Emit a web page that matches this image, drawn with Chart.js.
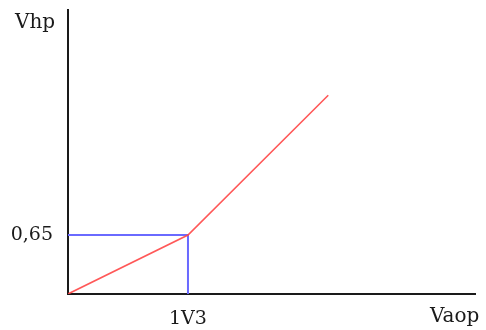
<!DOCTYPE html>
<html>
<head>
  <meta charset="UTF-8" />
  <title>Vhp vs Vaop</title>
  <style>
    html, body { margin: 0; padding: 0; background: #ffffff; }
    #wrap { width: 486px; height: 330px; position: relative; }
  </style>
</head>
<body>
  <div id="wrap">
    <canvas id="vhpChart"></canvas>
  </div>

  <script src="https://cdn.jsdelivr.net/npm/chart.js"></script>
  <script>
    // curve Vhp(Vaop)
    const vaop = [0, 1.3, 2.82];
    const vhp = [0, 0.65, 2.19];

    // blue guide lines to the knee
    const guideX = [0, 1.3, 1.3];
    const guideY = [0.65, 0.65, 0];

    const xTickValues = [1.3];
    const xTickLabels = ["1V3"];
    const yTickValues = [0.65];
    const yTickLabels = ["0,65"];

    const xTitle = "Vaop";
    const yTitle = "Vhp";

    const toPoints = (xs, ys) => xs.map((x, i) => ({ x: x, y: ys[i] }));

    const FONT = '"DejaVu Serif", "Liberation Serif", serif';

    const axisTitles = {
      id: "axisTitles",
      afterDraw(chart) {
        const ctx = chart.ctx;
        ctx.save();
        ctx.font = "20px " + FONT;
        ctx.fillStyle = "#1a1a1a";
        ctx.textAlign = "left";
        ctx.textBaseline = "alphabetic";
        ctx.fillText(yTitle, 15, 28);
        ctx.fillText(xTitle, 430, 322);
        ctx.restore();
      }
    };

    new Chart(document.getElementById("vhpChart"), {
      type: "scatter",
      data: {
        datasets: [
          {
            label: "Vhp",
            data: toPoints(vaop, vhp),
            showLine: true,
            borderColor: "rgba(255, 70, 70, 0.9)",
            borderWidth: 1.6,
            pointRadius: 0,
            order: 0
          },
          {
            label: "guide",
            data: toPoints(guideX, guideY),
            showLine: true,
            borderColor: "#6a6aff",
            borderWidth: 2,
            pointRadius: 0,
            order: 1
          }
        ]
      },
      options: {
        responsive: true,
        maintainAspectRatio: false,
        animation: false,
        layout: { padding: { top: 10, right: 11, bottom: 0, left: 0 } },
        plugins: {
          legend: { display: false },
          tooltip: { enabled: false }
        },
        scales: {
          x: {
            type: "linear",
            min: 0,
            max: 4.41,
            afterFit: s => { s.height = 36; s.paddingLeft = 0; s.paddingRight = 0; },
            afterBuildTicks: s => { s.ticks = xTickValues.map(v => ({ value: v })); },
            grid: { display: false, drawTicks: false },
            border: { display: true, color: "#1a1a1a", width: 2 },
            ticks: {
              color: "#1a1a1a",
              padding: 14,
              maxRotation: 0,
              font: { family: FONT, size: 19 },
              callback: v => xTickLabels[xTickValues.indexOf(v)] || ""
            }
          },
          y: {
            type: "linear",
            min: 0,
            max: 3.13,
            afterFit: s => { s.width = 68; s.paddingTop = 0; s.paddingBottom = 0; },
            afterBuildTicks: s => { s.ticks = yTickValues.map(v => ({ value: v })); },
            grid: { display: false, drawTicks: false },
            border: { display: true, color: "#1a1a1a", width: 2 },
            ticks: {
              color: "#1a1a1a",
              padding: 15,
              font: { family: FONT, size: 19 },
              callback: v => yTickLabels[yTickValues.indexOf(v)] || ""
            }
          }
        }
      },
      plugins: [axisTitles]
    });
  </script>
</body>
</html>
